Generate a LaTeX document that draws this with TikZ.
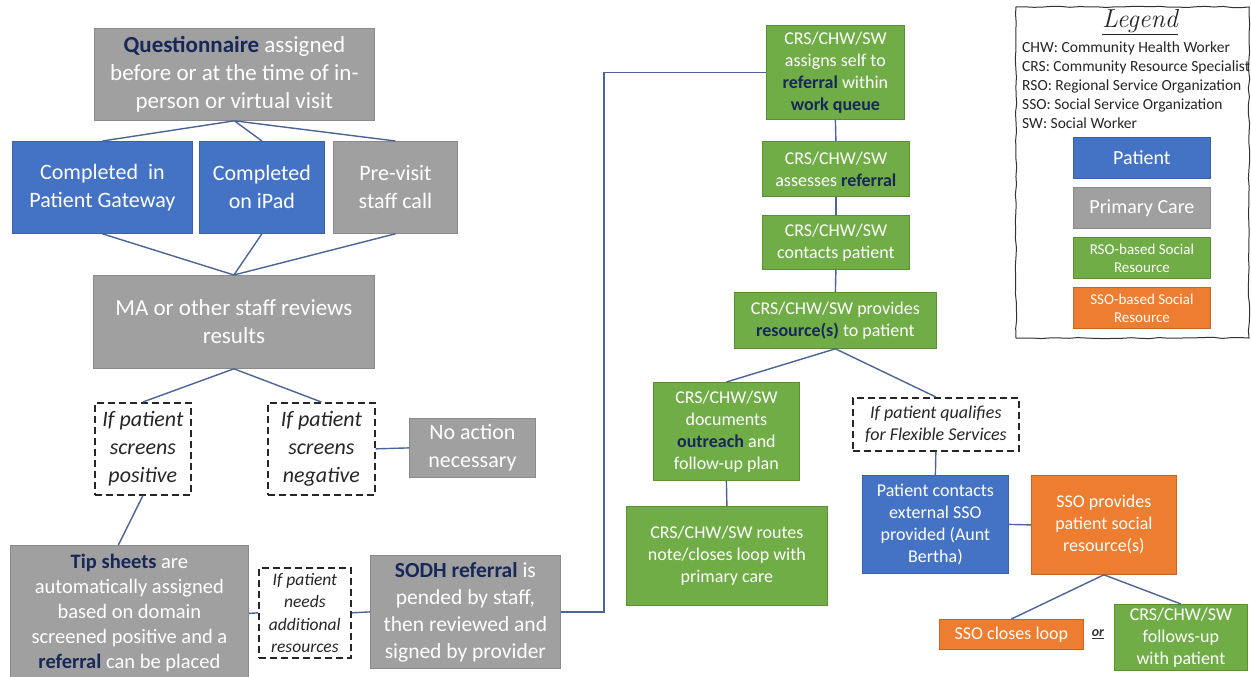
\documentclass[tikz,border=0pt]{standalone}
\usepackage{fontspec}
\newfontfamily\carl{Carlito}
\usetikzlibrary{decorations.pathmorphing}
\definecolor{cgray}{HTML}{A0A0A0}
\definecolor{cgrayd}{HTML}{8A8A8A}
\definecolor{cblue}{HTML}{4472C4}
\definecolor{cblued}{HTML}{3A60A8}
\definecolor{cgreen}{HTML}{70AD47}
\definecolor{cgreend}{HTML}{5A8F36}
\definecolor{corange}{HTML}{ED7D31}
\definecolor{coranged}{HTML}{C8641E}
\definecolor{navy}{HTML}{17275A}
\definecolor{cline}{HTML}{4C6596}
\tikzset{
  bx/.style={anchor=north west, align=center, text=white, inner sep=0pt, line width=0.8pt},
  gbx/.style={bx, fill=cgray, draw=cgrayd},
  bbx/.style={bx, fill=cblue, draw=cblued},
  grbx/.style={bx, fill=cgreen, draw=cgreend},
  obx/.style={bx, fill=corange, draw=coranged},
  dbx/.style={anchor=north west, align=center, inner sep=0pt, fill=white, draw=black!85,
    line width=1.7pt, dash pattern=on 7pt off 4pt, text=black!85},
  conn/.style={draw=cline, line width=1.4pt},
  fa/.style={font=\carl\fontsize{23}{28}\selectfont},
  fb/.style={font=\carl\fontsize{22}{28}\selectfont},
  fc/.style={font=\carl\fontsize{20.5}{25}\selectfont},
  fd/.style={font=\carl\fontsize{21.5}{27}\selectfont},
  fe/.style={font=\carl\fontsize{18}{22}\selectfont},
  ff/.style={font=\carl\fontsize{20}{24}\selectfont},
  fg/.style={font=\carl\fontsize{15}{18}\selectfont},
  fia/.style={font=\carl\itshape\fontsize{22}{28}\selectfont},
  fib/.style={font=\carl\itshape\fontsize{17.5}{22.5}\selectfont},
  fic/.style={font=\carl\itshape\fontsize{18}{22}\selectfont},
}
\newcommand{\hl}[1]{{\bfseries\color{navy}#1}}
\begin{document}
\begin{tikzpicture}[x=1pt,y=-1pt]
\useasboundingbox (0,0) rectangle (1251,677);
\fill[white] (0,0) rectangle (1251,677);

% left column
\node[gbx, fa, minimum width=280pt, minimum height=92pt] (q) at (94,28)
  {\hl{Questionnaire} assigned\\before or at the time of in-\\person or virtual visit};
\node[bbx, fb, minimum width=180pt, minimum height=92pt] (cpg) at (12,141) {Completed\ \ in\\Patient Gateway};
\node[bbx, fb, minimum width=125pt, minimum height=92pt] (cip) at (199,141) {Completed\\on iPad};
\node[gbx, fb, minimum width=124pt, minimum height=92pt] (pvs) at (333,141) {Pre-visit\\staff call};
\node[gbx, fa, minimum width=281pt, minimum height=93pt] (ma) at (93,275) {MA or other staff reviews\\results};
\node[dbx, fia, minimum width=96pt, minimum height=92pt] (pos) at (94,402) {If patient\\screens\\positive};
\node[dbx, fia, minimum width=107pt, minimum height=92pt] (neg) at (267,402) {If patient\\screens\\negative};
\node[gbx, fb, minimum width=126pt, minimum height=59pt] (noa) at (409,418) {No action\\necessary};
\node[gbx, fc, minimum width=238pt, minimum height=136pt] (tip) at (10,545)
  {\hl{Tip sheets} are\\automatically assigned\\based on domain\\screened positive and a\\\hl{referral} can be placed};
\node[dbx, fib, minimum width=92pt, minimum height=90pt] (need) at (258,567) {If patient\\needs\\additional\\resources};
\node[gbx, fd, minimum width=190pt, minimum height=113pt] (sodh) at (370,555)
  {\hl{SODH referral} is\\pended by staff,\\then reviewed and\\signed by provider};

% right column
\node[grbx, fe, minimum width=138pt, minimum height=94pt] (c1) at (766,25)
  {CRS/CHW/SW\\assigns self to\\\hl{referral} within\\\hl{work queue}};
\node[grbx, fe, minimum width=147pt, minimum height=55pt] (c2) at (762,141) {CRS/CHW/SW\\assesses \hl{referral}};
\node[grbx, fe, minimum width=147pt, minimum height=54pt] (c3) at (762,215) {CRS/CHW/SW\\contacts patient};
\node[grbx, fe, minimum width=202pt, minimum height=56pt] (c4) at (734,292) {CRS/CHW/SW provides\\\hl{resource(s)} to patient};
\node[grbx, fe, minimum width=146pt, minimum height=98pt] (c5) at (653,382)
  {CRS/CHW/SW\\documents\\\hl{outreach} and\\follow-up plan};
\node[grbx, fe, minimum width=201pt, minimum height=99pt] (c6) at (626,506)
  {CRS/CHW/SW routes\\note/closes loop with\\primary care};
\node[dbx, fic, minimum width=166pt, minimum height=53pt] (flex) at (852,397) {If patient qualifies\\for Flexible Services};
\node[bbx, fe, minimum width=146pt, minimum height=98pt] (pc) at (862,475)
  {Patient contacts\\external SSO\\provided (Aunt\\Bertha)};
\node[obx, fe, minimum width=145pt, minimum height=99pt] (ssop) at (1031,475)
  {SSO provides\\patient social\\resource(s)};
\node[obx, fe, minimum width=144pt, minimum height=30pt] (sscl) at (939,619) {SSO closes loop};
\node[grbx, fe, minimum width=133pt, minimum height=66pt] (fu) at (1114,604)
  {CRS/CHW/SW\\follows-up\\with patient};
\node[font=\carl\bfseries\itshape\fontsize{14}{14}\selectfont, text=black!80, inner sep=0pt] (or) at (1098,634) {\underline{or}};

% legend
\pgfmathsetseed{7}
\draw[black!80, line width=1pt, decorate, decoration={random steps, segment length=9pt, amplitude=0.7pt}]
  (1016,7) -- (1249,7) -- (1249,338) -- (1016,338) -- cycle;
\node[font=\itshape\fontsize{26}{26}\selectfont, text=black!85, inner sep=0pt] (legt) at (1140,22) {\underline{Legend}};
\node[anchor=north west, align=left, inner sep=0pt, text=black!85, font=\carl\fontsize{15.5}{19}\selectfont] (legtxt) at (1022,42)
  {CHW: Community Health Worker\\CRS: Community Resource Specialist\\RSO: Regional Service Organization\\SSO: Social Service Organization\\SW: Social Worker};
\node[bbx, ff, minimum width=137pt, minimum height=41pt] (lp) at (1073,137) {Patient};
\node[gbx, ff, minimum width=137pt, minimum height=41pt] (lpc) at (1073,187) {Primary Care};
\node[grbx, fg, minimum width=137pt, minimum height=41pt] (lr) at (1073,237) {RSO-based Social\\Resource};
\node[obx, fg, minimum width=137pt, minimum height=41pt] (ls) at (1073,287) {SSO-based Social\\Resource};

% connectors
\draw[conn] (q.south) -- (cpg.north);
\draw[conn] (q.south) -- (cip.north);
\draw[conn] (q.south) -- (pvs.north);
\draw[conn] (cpg.south) -- (ma.north);
\draw[conn] (cip.south) -- (ma.north);
\draw[conn] (pvs.south) -- (ma.north);
\draw[conn] (ma.south) -- (pos.north);
\draw[conn] (ma.south) -- (neg.north);
\draw[conn] (neg.east) -- (noa.west);
\draw[conn] (pos.south) -- ([xshift=-11pt]tip.north);
\draw[conn] (tip.east) -- (need.west);
\draw[conn] (need.east) -- (sodh.west);
\draw[conn] (sodh.east) -- ++(43,0) |- (c1.west);
\draw[conn] (c1.south) -- (c2.north);
\draw[conn] (c2.south) -- (c3.north);
\draw[conn] (c3.south) -- (c4.north);
\draw[conn] (c4.south) -- (c5.north);
\draw[conn] (c4.south) -- (flex.north);
\draw[conn] (c5.south) -- (c6.north);
\draw[conn] (flex.south) -- (pc.north);
\draw[conn] (pc.east) -- (ssop.west);
\draw[conn] (ssop.south) -- (sscl.north);
\draw[conn] (ssop.south) -- (fu.north);
\end{tikzpicture}
\end{document}
